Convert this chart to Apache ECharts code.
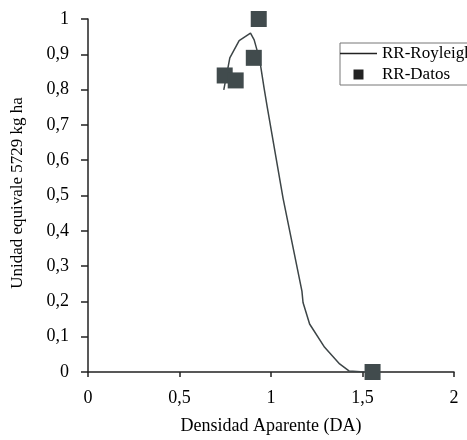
<!DOCTYPE html>
<html><head><meta charset="utf-8">
<script src="https://cdn.jsdelivr.net/npm/echarts@6/dist/echarts.min.js"></script>
<style>html,body{margin:0;padding:0;background:#fff}#c{width:467px;height:440px}</style>
</head><body><div id="c"></div>
<script>
const xTicks = [0, 0.5, 1, 1.5, 2];
const yTicks = [0, 0.1, 0.2, 0.3, 0.4, 0.5, 0.6, 0.7, 0.8, 0.9, 1];
const curveX = [0.742, 0.775, 0.826, 0.888, 0.908, 0.938, 0.962, 0.98, 1.066, 1.169, 1.175, 1.211, 1.293, 1.375, 1.426, 1.51];
const curveY = [0.799, 0.89, 0.939, 0.96, 0.941, 0.885, 0.805, 0.749, 0.492, 0.229, 0.197, 0.136, 0.070, 0.023, 0.003, 0];
const dataX = [0.933, 0.906, 0.747, 0.807, 1.555];
const dataY = [1.0, 0.89, 0.84, 0.826, 0];
const lineName = 'RR-Royleigh';
const dataName = 'RR-Datos';
const xTitle = 'Densidad Aparente (DA)';
const yTitle = 'Unidad equivale 5729 kg ha';

const font = 'Liberation Serif';
const fmt = v => String(Math.round(v * 10) / 10).replace('.', ',');
const chart = echarts.init(document.getElementById('c'), null, {renderer: 'canvas'});
chart.setOption({
  animation: false,
  backgroundColor: '#fff',
  grid: {left: 88, right: 13, top: 19, bottom: 65, containLabel: false},
  legend: {
    left: 340, top: 43, orient: 'vertical',
    borderColor: '#777', borderWidth: 1, padding: [2, 30, 2, 0],
    itemWidth: 37, itemHeight: 10, itemGap: 4,
    textStyle: {fontFamily: font, fontSize: 17, color: '#000'},
    data: [
      {name: lineName, icon: 'path://M0,0h37v1.4h-37z', itemStyle: {color: '#222'}},
      {name: dataName, icon: 'path://M0,0h10v10h-10z', itemStyle: {color: '#222'}}
    ]
  },
  xAxis: {
    type: 'value', min: 0, max: 2, interval: 0.5,
    name: xTitle, nameLocation: 'middle', nameGap: 45,
    nameTextStyle: {fontFamily: font, fontSize: 18, color: '#000'},
    axisLine: {show: true, onZero: false, lineStyle: {color: '#222', width: 1.5}},
    axisTick: {show: true, inside: false, length: 5, lineStyle: {color: '#222', width: 1.5}},
    axisLabel: {margin: 17, fontFamily: font, fontSize: 18, color: '#000', formatter: fmt},
    splitLine: {show: false}
  },
  yAxis: {
    type: 'value', min: 0, max: 1, interval: 0.1,
    axisLine: {show: true, onZero: false, lineStyle: {color: '#222', width: 1.5}},
    axisTick: {show: true, inside: false, length: 7, lineStyle: {color: '#222', width: 1.5}},
    axisLabel: {margin: 19, fontFamily: font, fontSize: 18, color: '#000', formatter: fmt},
    splitLine: {show: false}
  },
  graphic: [{
    type: 'text', x: 18, y: 193, rotation: Math.PI / 2,
    style: {text: yTitle, fontFamily: font, fontSize: 17, fill: '#000', align: 'center', verticalAlign: 'middle'}
  }],
  series: [
    {
      name: lineName, type: 'line', showSymbol: false, symbol: 'none',
      data: curveX.map((x, i) => [x, curveY[i]]),
      lineStyle: {color: '#3d4547', width: 1.5},
      itemStyle: {color: '#3d4547'},
      z: 2
    },
    {
      name: dataName, type: 'scatter', symbol: 'rect', symbolSize: 16,
      data: dataX.map((x, i) => [x, dataY[i]]),
      itemStyle: {color: '#414b4d', opacity: 1},
      z: 3
    }
  ]
});
</script></body></html>
